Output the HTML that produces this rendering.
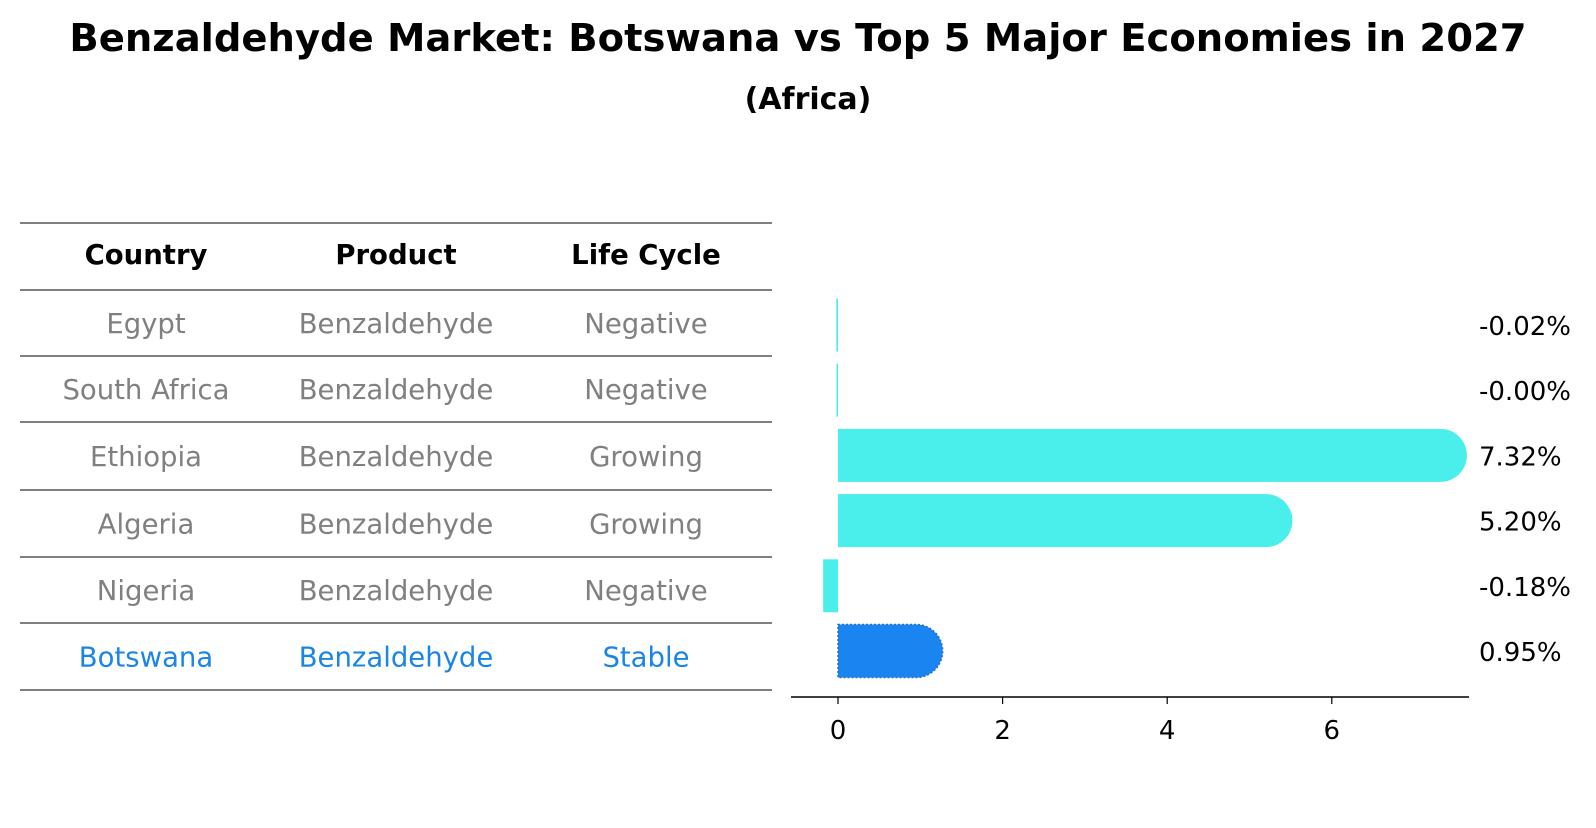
<!DOCTYPE html>
<html><head><meta charset="utf-8"><style>
body{margin:0;background:#fff;font-family:"Liberation Sans","DejaVu Sans",sans-serif;}
</style></head><body>
<svg width="1596" height="823" xmlns="http://www.w3.org/2000/svg" style="font-family:'DejaVu Sans','Liberation Sans',sans-serif">
<text x="798" y="51" text-anchor="middle" font-size="38.5" font-weight="bold">Benzaldehyde Market: Botswana vs Top 5 Major Economies in 2027</text>
<text x="808" y="109" text-anchor="middle" font-size="30" font-weight="bold">(Africa)</text>
<g id="table"></g>
<g id="bars"></g>
</svg>
<script>
const countries=["Egypt","South Africa","Ethiopia","Algeria","Nigeria","Botswana"];
const products=["Benzaldehyde","Benzaldehyde","Benzaldehyde","Benzaldehyde","Benzaldehyde","Benzaldehyde"];
const lifeCycles=["Negative","Negative","Growing","Growing","Negative","Stable"];
const values=[-0.02,-0.00,7.32,5.20,-0.18,0.95];
const valueLabels=["-0.02%","-0.00%","7.32%","5.20%","-0.18%","0.95%"];
const xTicks=[0,2,4,6];
const NS="http://www.w3.org/2000/svg";
function mk(tag,attrs,parent){const e=document.createElementNS(NS,tag);for(const k in attrs)e.setAttribute(k,attrs[k]);parent.appendChild(e);return e;}
const tbl=document.getElementById('table');
const colX=[146,396,646];
const lineYs=[223,290,356,422,490,557,623,690];
const FS=27.5;
lineYs.forEach((y,i)=>{const l=mk('line',{x1:20,x2:772,y1:y,y2:y,stroke:'#000','stroke-width':1},tbl);

});
["Country","Product","Life Cycle"].forEach((h,i)=>{const t=mk('text',{x:colX[i],y:264,'text-anchor':'middle','font-size':FS,'font-weight':'bold'},tbl);t.textContent=h;

});
countries.forEach((c,r)=>{const y=(lineYs[r+1]+lineYs[r+2])/2+10;const col=r===countries.length-1?'#1a85e8':'#808080';
[c,products[r],lifeCycles[r]].forEach((v,i)=>{const t=mk('text',{x:colX[i],y:y,'text-anchor':'middle','font-size':FS,fill:col},tbl);t.textContent=v;

});});
const g=document.getElementById('bars');
const x0=838,pxPer=82.3;
const xs=v=>x0+v*pxPer;
const rowY=i=>325+i*65.2;
const h=53,r=26.5;
values.forEach((v,i)=>{const last=i===values.length-1;const fill=last?'#1a85f0':'#4aeeea';const cy=rowY(i);
let el;
if(v>0){const xe=xs(v);
el=mk('path',{d:`M${x0},${cy-h/2} L${xe},${cy-h/2} A${r},${r} 0 0 1 ${xe},${cy+h/2} L${x0},${cy+h/2} Z`,fill:fill},g);
if(last){el.setAttribute('stroke','#2a6fc0');el.setAttribute('stroke-dasharray','2,2');el.setAttribute('stroke-width','1.5');}
}else{const w=Math.max(Math.abs(v)*pxPer,1.5);el=mk('rect',{x:x0-w,y:cy-h/2,width:w,height:h,fill:fill},g);}


const t=mk('text',{x:1479,y:cy+10,'font-size':26},g);t.textContent=valueLabels[i];

});
const ax=mk('line',{x1:791,x2:1469,y1:697,y2:697,stroke:'#000','stroke-width':1.5},g);


xTicks.forEach(tv=>{const tk=mk('line',{x1:xs(tv),x2:xs(tv),y1:697,y2:704,stroke:'#000','stroke-width':1.2},g);


const t=mk('text',{x:xs(tv),y:739,'text-anchor':'middle','font-size':26},g);t.textContent=tv;

});
</script>
</body></html>
